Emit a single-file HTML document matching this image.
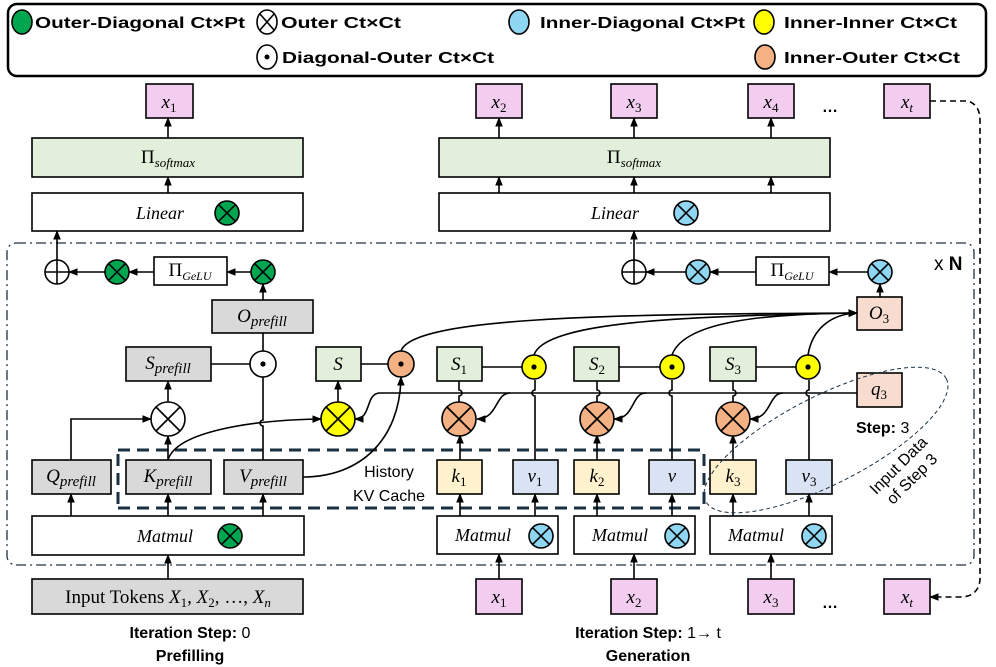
<!DOCTYPE html>
<html><head><meta charset="utf-8"><style>
html,body{margin:0;padding:0;background:#fff;}
svg{display:block}
.b{font-family:"Liberation Sans",sans-serif;font-weight:bold;font-size:16px;fill:#000}
.m{font-family:"Liberation Serif",serif;font-style:italic;fill:#000}
.s{font-family:"Liberation Sans",sans-serif;fill:#000}
</style></head><body>
<svg width="996" height="667" viewBox="0 0 996 667" xmlns="http://www.w3.org/2000/svg">
<defs>
<marker id="a" viewBox="0 0 10 10" refX="9" refY="5" markerWidth="6" markerHeight="6" orient="auto-start-reverse"><path d="M0,1 L10,5 L0,9 z" fill="#000"/></marker>
<g id="ox"><line x1="-0.707" y1="-0.707" x2="0.707" y2="0.707"/><line x1="-0.707" y1="0.707" x2="0.707" y2="-0.707"/></g>
</defs>
<!-- legend -->
<rect x="8" y="4" width="978" height="72" rx="9" fill="#fff" stroke="#000" stroke-width="2.5"/>
<g stroke="#000" stroke-width="1.6">
<ellipse cx="22" cy="22" rx="10" ry="12" fill="#00a550"/>
<ellipse cx="267" cy="22" rx="10" ry="12" fill="#fff"/>
<line x1="260" y1="14" x2="274" y2="30"/><line x1="260" y1="30" x2="274" y2="14"/>
<ellipse cx="519" cy="22" rx="10" ry="12" fill="#8fd6f3"/>
<ellipse cx="764" cy="22" rx="10" ry="12" fill="#ffff00"/>
<ellipse cx="267" cy="57" rx="10" ry="12" fill="#fff"/>
<ellipse cx="765" cy="57" rx="10" ry="12" fill="#f4b183"/>
</g>
<circle cx="267" cy="57" r="2.5"/>
<text class="b" x="35" y="28" textLength="210" lengthAdjust="spacingAndGlyphs">Outer-Diagonal Ct×Pt</text>
<text class="b" x="281" y="28" textLength="120" lengthAdjust="spacingAndGlyphs">Outer Ct×Ct</text>
<text class="b" x="540" y="28" textLength="205" lengthAdjust="spacingAndGlyphs">Inner-Diagonal Ct×Pt</text>
<text class="b" x="784" y="28" textLength="173" lengthAdjust="spacingAndGlyphs">Inner-Inner Ct×Ct</text>
<text class="b" x="282" y="63" textLength="212" lengthAdjust="spacingAndGlyphs">Diagonal-Outer Ct×Ct</text>
<text class="b" x="784" y="63" textLength="176" lengthAdjust="spacingAndGlyphs">Inner-Outer Ct×Ct</text>

<!-- N block frame -->
<rect x="7" y="243" width="967" height="322" rx="9" fill="none" stroke="#203040" stroke-width="1.3" stroke-dasharray="10,4,2,4"/>
<text x="934" y="270" class="s" font-size="19">x <tspan font-weight="bold">N</tspan></text>

<!-- KV cache dashed -->
<path d="M118,450 L704,450 M118,508 L704,508 M118,454 L118,505 M704,454 L704,505" fill="none" stroke="#1a3040" stroke-width="3" stroke-dasharray="12,7"/>
<text class="s" x="389" y="477" font-size="16" text-anchor="middle">History</text>
<text class="s" x="389" y="501" font-size="16" text-anchor="middle">KV Cache</text>

<g stroke="#000" stroke-width="1.6" fill="none">
<!-- top boxes -->
<rect x="146" y="84" width="47" height="34" fill="#f2cdef"/>
<rect x="476" y="84" width="46" height="34" fill="#f2cdef"/>
<rect x="611" y="84" width="46" height="34" fill="#f2cdef"/>
<rect x="748" y="84" width="46" height="34" fill="#f2cdef"/>
<rect x="884" y="84" width="46" height="34" fill="#f2cdef"/>
<rect x="32" y="138" width="271" height="39" fill="#e2efda"/>
<rect x="439" y="138" width="391" height="39" fill="#e2efda"/>
<rect x="32" y="193" width="271" height="38" fill="#fff"/>
<rect x="439" y="193" width="391" height="38" fill="#fff"/>
<!-- bottom boxes -->
<rect x="32" y="579" width="271" height="35" fill="#d9d9d9"/>
<rect x="476" y="579" width="46" height="35" fill="#f2cdef"/>
<rect x="611" y="579" width="46" height="35" fill="#f2cdef"/>
<rect x="748" y="579" width="46" height="35" fill="#f2cdef"/>
<rect x="884" y="579" width="46" height="35" fill="#f2cdef"/>
<!-- prefill -->
<rect x="154" y="257" width="73" height="28" fill="#fff"/>
<rect x="212" y="300" width="101" height="33" fill="#d9d9d9"/>
<rect x="126" y="347" width="85" height="34" fill="#d9d9d9"/>
<rect x="32" y="460" width="79" height="34" fill="#d9d9d9"/>
<rect x="126" y="460" width="85" height="34" fill="#d9d9d9"/>
<rect x="224" y="460" width="79" height="34" fill="#d9d9d9"/>
<rect x="32" y="516" width="272" height="39" fill="#fff"/>
<rect x="316" y="347" width="45" height="34" fill="#e2efda"/>
<!-- generation -->
<rect x="756" y="257" width="73" height="28" fill="#fff"/>
<rect x="857" y="297" width="45" height="33" fill="#f8dccf"/>
<rect x="857" y="373" width="45" height="34" fill="#f8dccf"/>
<rect x="437" y="347" width="45" height="34" fill="#e2efda"/>
<rect x="574" y="347" width="45" height="34" fill="#e2efda"/>
<rect x="710" y="347" width="46" height="34" fill="#e2efda"/>
<rect x="437" y="460" width="45" height="34" fill="#fff2cc"/>
<rect x="513" y="460" width="45" height="34" fill="#dae3f3"/>
<rect x="574" y="460" width="45" height="34" fill="#fff2cc"/>
<rect x="649" y="460" width="46" height="34" fill="#dae3f3"/>
<rect x="710" y="460" width="46" height="34" fill="#fff2cc"/>
<rect x="786" y="460" width="46" height="34" fill="#dae3f3"/>
<rect x="437" y="516" width="121" height="38" fill="#fff"/>
<rect x="574" y="516" width="121" height="38" fill="#fff"/>
<rect x="710" y="516" width="122" height="38" fill="#fff"/>

<!-- arrows top -->
<g marker-end="url(#a)">
<line x1="168" y1="138" x2="168" y2="118"/>
<line x1="168" y1="193" x2="168" y2="177"/>
<line x1="499" y1="138" x2="499" y2="118"/>
<line x1="634" y1="138" x2="634" y2="118"/>
<line x1="771" y1="138" x2="771" y2="118"/>
<line x1="499" y1="193" x2="499" y2="177"/>
<line x1="634" y1="193" x2="634" y2="177"/>
<line x1="771" y1="193" x2="771" y2="177"/>
<line x1="57" y1="260" x2="57" y2="231"/>
<line x1="634" y1="260" x2="634" y2="231"/>
<!-- gelu chain -->
<line x1="251" y1="272" x2="227" y2="272"/>
<line x1="154" y1="272" x2="129" y2="272"/>
<line x1="105" y1="272" x2="69" y2="272"/>
<line x1="263" y1="300" x2="263" y2="284"/>
<line x1="868" y1="272" x2="829" y2="272"/>
<line x1="756" y1="272" x2="710" y2="272"/>
<line x1="686" y1="272" x2="646" y2="272"/>
<line x1="880" y1="297" x2="880" y2="284"/>
<!-- prefill -->
<line x1="168" y1="402" x2="168" y2="381"/>
<line x1="168" y1="460" x2="168" y2="436"/>
<line x1="71" y1="516" x2="71" y2="494"/>
<line x1="168" y1="516" x2="168" y2="494"/>
<line x1="263" y1="516" x2="263" y2="494"/>
<line x1="168" y1="579" x2="168" y2="555"/>
<line x1="338" y1="402" x2="338" y2="381"/>
<!-- generation -->
<line x1="460" y1="460" x2="460" y2="435"/>
<line x1="597" y1="460" x2="597" y2="435"/>
<line x1="733" y1="460" x2="733" y2="435"/>
<line x1="460" y1="516" x2="460" y2="494"/>
<line x1="535" y1="516" x2="535" y2="494"/>
<line x1="597" y1="516" x2="597" y2="494"/>
<line x1="672" y1="516" x2="672" y2="494"/>
<line x1="733" y1="516" x2="733" y2="494"/>
<line x1="809" y1="516" x2="809" y2="494"/>
<line x1="499" y1="579" x2="499" y2="554"/>
<line x1="634" y1="579" x2="634" y2="554"/>
<line x1="771" y1="579" x2="771" y2="554"/>
<path d="M71,460 L71,419 L151,419"/>
<path d="M168,460 C176,432 250,420 321,419"/>
<path d="M303,477 C360,477 400,440 401,377"/>
<path d="M401,351 C412,318 600,314 857,313"/>
<path d="M534,355 C545,320 700,316 857,313"/>
<path d="M672,355 C685,318 780,314 857,313"/>
<path d="M808,355 C812,330 830,314 857,313"/>
<path d="M857,393 L380,393 C365,393 372,419 355,419"/>
<path d="M510,393 C495,393 498,419 477,419"/>
<path d="M646,393 C631,393 635,419 614,419"/>
<path d="M783,393 C768,393 772,419 750,419"/>
<path d="M930,101 L968,101 Q980,105 980,120 L980,580 Q978,597 960,597 L930,597" stroke-dasharray="6,4"/>
</g>
<!-- plain lines -->
<line x1="211" y1="364" x2="250" y2="364"/>
<line x1="263" y1="351" x2="263" y2="333"/>
<path d="M263,460 L263,426 a3,3 0 0 1 0,-6 L263,377"/>
<line x1="361" y1="364" x2="388" y2="364"/>
<line x1="482" y1="367" x2="522" y2="367"/>
<line x1="619" y1="367" x2="660" y2="367"/>
<line x1="756" y1="367" x2="796" y2="367"/>
<path d="M459,381 L459,390 a3,3 0 0 1 0,6 L459,402"/>
<path d="M597,381 L597,390 a3,3 0 0 1 0,6 L597,402"/>
<path d="M733,381 L733,390 a3,3 0 0 1 0,6 L733,402"/>
<path d="M535,460 L535,396 a3,3 0 0 1 0,-6 L535,380"/>
<path d="M672,460 L672,396 a3,3 0 0 1 0,-6 L672,380"/>
<path d="M809,460 L809,396 a3,3 0 0 1 0,-6 L809,380"/>
<!-- circles -->
<circle cx="57" cy="272" r="12" fill="#fff"/>
<line x1="45" y1="272" x2="69" y2="272"/><line x1="57" y1="260" x2="57" y2="284"/>
<circle cx="634" cy="272" r="12" fill="#fff"/>
<line x1="622" y1="272" x2="646" y2="272"/><line x1="634" y1="260" x2="634" y2="284"/>
<g fill="#00a550"><circle cx="117" cy="272" r="12"/><circle cx="263" cy="272" r="12"/><circle cx="227" cy="213" r="12"/><circle cx="230" cy="536" r="12"/></g>
<g fill="#8fd6f3"><circle cx="698" cy="272" r="12"/><circle cx="880" cy="272" r="12"/><circle cx="686" cy="213" r="12"/><circle cx="541" cy="536" r="12"/><circle cx="677" cy="536" r="12"/><circle cx="814" cy="536" r="12"/></g>
<circle cx="168" cy="419" r="17" fill="#fff"/>
<circle cx="338" cy="419" r="17" fill="#ffff00"/>
<g fill="#f4b183"><circle cx="459" cy="419" r="17"/><circle cx="597" cy="419" r="17"/><circle cx="733" cy="419" r="17"/><circle cx="401" cy="364" r="13"/></g>
<circle cx="263" cy="364" r="13" fill="#fff"/>
<g fill="#ffff00"><circle cx="534" cy="367" r="12"/><circle cx="672" cy="367" r="12"/><circle cx="808" cy="367" r="12"/></g>
<!-- X crosses -->
<g stroke-width="1.6">
<use href="#ox" transform="translate(117,272) scale(12)" stroke-width="0.13"/>
<use href="#ox" transform="translate(263,272) scale(12)" stroke-width="0.13"/>
<use href="#ox" transform="translate(227,213) scale(12)" stroke-width="0.13"/>
<use href="#ox" transform="translate(230,536) scale(12)" stroke-width="0.13"/>
<use href="#ox" transform="translate(698,272) scale(12)" stroke-width="0.13"/>
<use href="#ox" transform="translate(880,272) scale(12)" stroke-width="0.13"/>
<use href="#ox" transform="translate(686,213) scale(12)" stroke-width="0.13"/>
<use href="#ox" transform="translate(541,536) scale(12)" stroke-width="0.13"/>
<use href="#ox" transform="translate(677,536) scale(12)" stroke-width="0.13"/>
<use href="#ox" transform="translate(814,536) scale(12)" stroke-width="0.13"/>
<use href="#ox" transform="translate(168,419) scale(17)" stroke-width="0.1"/>
<use href="#ox" transform="translate(338,419) scale(17)" stroke-width="0.1"/>
<use href="#ox" transform="translate(459,419) scale(17)" stroke-width="0.1"/>
<use href="#ox" transform="translate(597,419) scale(17)" stroke-width="0.1"/>
<use href="#ox" transform="translate(733,419) scale(17)" stroke-width="0.1"/>
</g>
</g>
<g fill="#000"><circle cx="263" cy="364" r="2.6"/><circle cx="401" cy="364" r="2.6"/><circle cx="534" cy="367" r="2.6"/><circle cx="672" cy="367" r="2.6"/><circle cx="808" cy="367" r="2.6"/></g>

<!-- ellipse -->
<ellipse cx="826" cy="440" rx="135" ry="44" transform="rotate(-27 826 440)" fill="none" stroke="#1a3040" stroke-width="1" stroke-dasharray="4,3"/>
<text class="b" x="856" y="433" font-size="15">Step: <tspan font-weight="normal">3</tspan></text>
<text class="s" font-size="16" transform="translate(905,472) rotate(-45)" text-anchor="middle"><tspan x="0" y="-4">Input Data</tspan><tspan x="0" y="15">of Step 3</tspan></text>

<!-- math labels -->
<g class="m" font-size="19" text-anchor="middle">
<text x="169" y="108">x<tspan font-size="13" font-style="normal" dy="4">1</tspan></text>
<text x="499" y="108">x<tspan font-size="13" font-style="normal" dy="4">2</tspan></text>
<text x="634" y="108">x<tspan font-size="13" font-style="normal" dy="4">3</tspan></text>
<text x="771" y="108">x<tspan font-size="13" font-style="normal" dy="4">4</tspan></text>
<text x="907" y="108">x<tspan font-size="13" dy="4">t</tspan></text>
<text x="499" y="603">x<tspan font-size="13" font-style="normal" dy="4">1</tspan></text>
<text x="634" y="603">x<tspan font-size="13" font-style="normal" dy="4">2</tspan></text>
<text x="771" y="603">x<tspan font-size="13" font-style="normal" dy="4">3</tspan></text>
<text x="907" y="603">x<tspan font-size="13" dy="4">t</tspan></text>
<text x="168" y="163"><tspan font-style="normal">Π</tspan><tspan font-size="13" dy="4">softmax</tspan></text>
<text x="634" y="163"><tspan font-style="normal">Π</tspan><tspan font-size="13" dy="4">softmax</tspan></text>
<text x="160" y="219" font-size="18">Linear</text>
<text x="615" y="219" font-size="18">Linear</text>
<text x="190" y="276"><tspan font-style="normal">Π</tspan><tspan font-size="12" dy="4">GeLU</tspan></text>
<text x="792" y="276"><tspan font-style="normal">Π</tspan><tspan font-size="12" dy="4">GeLU</tspan></text>
<text x="262" y="322">O<tspan font-size="15" dy="4">prefill</tspan></text>
<text x="168" y="369">S<tspan font-size="15" dy="4">prefill</tspan></text>
<text x="71" y="482">Q<tspan font-size="15" dy="4">prefill</tspan></text>
<text x="168" y="482">K<tspan font-size="15" dy="4">prefill</tspan></text>
<text x="263" y="482">V<tspan font-size="15" dy="4">prefill</tspan></text>
<text x="338" y="370">S</text>
<text x="459" y="370">S<tspan font-size="13" font-style="normal" dy="4">1</tspan></text>
<text x="597" y="370">S<tspan font-size="13" font-style="normal" dy="4">2</tspan></text>
<text x="733" y="370">S<tspan font-size="13" font-style="normal" dy="4">3</tspan></text>
<text x="879" y="319">O<tspan font-size="13" font-style="normal" dy="4">3</tspan></text>
<text x="879" y="395">q<tspan font-size="13" font-style="normal" dy="4">3</tspan></text>
<text x="459" y="482">k<tspan font-size="13" font-style="normal" dy="4">1</tspan></text>
<text x="535" y="482">v<tspan font-size="13" font-style="normal" dy="4">1</tspan></text>
<text x="597" y="482">k<tspan font-size="13" font-style="normal" dy="4">2</tspan></text>
<text x="672" y="482">v</text>
<text x="733" y="482">k<tspan font-size="13" font-style="normal" dy="4">3</tspan></text>
<text x="809" y="482">v<tspan font-size="13" font-style="normal" dy="4">3</tspan></text>
<text x="165" y="542" font-size="18">Matmul</text>
<text x="483" y="541" font-size="18">Matmul</text>
<text x="620" y="541" font-size="18">Matmul</text>
<text x="756" y="541" font-size="18">Matmul</text>
</g>
<text x="168" y="603" font-family="Liberation Serif,serif" font-size="19" text-anchor="middle">Input Tokens <tspan font-style="italic">X</tspan><tspan font-size="13" dy="4">1</tspan><tspan dy="-4">, </tspan><tspan font-style="italic">X</tspan><tspan font-size="13" dy="4">2</tspan><tspan dy="-4">, …, </tspan><tspan font-style="italic">X</tspan><tspan font-size="13" font-style="italic" dy="4">n</tspan></text>
<text class="b" x="830" y="112" text-anchor="middle">…</text>
<text class="b" x="830" y="608" text-anchor="middle">…</text>

<text class="b" x="190" y="638" text-anchor="middle">Iteration Step: <tspan font-weight="normal">0</tspan></text>
<text class="b" x="190" y="661" text-anchor="middle">Prefilling</text>
<text class="b" x="648" y="638" text-anchor="middle">Iteration Step: <tspan font-weight="normal">1→ t</tspan></text>
<text class="b" x="648" y="661" text-anchor="middle">Generation</text>
</svg>
</body></html>
